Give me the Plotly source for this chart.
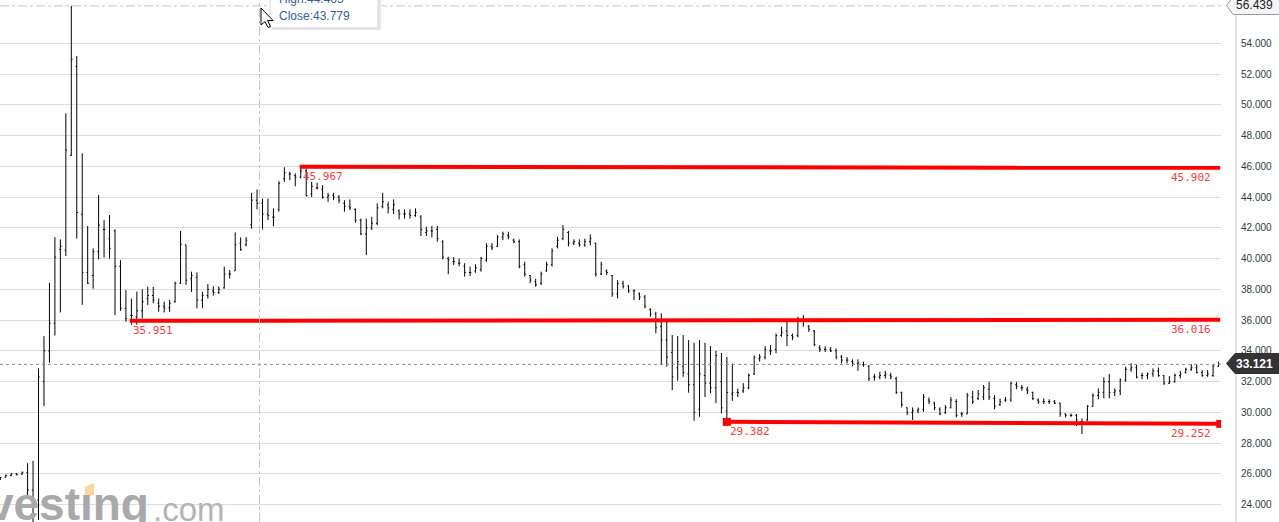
import plotly.graph_objects as go

# ---------------- data ----------------
opens = [25.65, 25.8, 25.9, 26.0, 25.98, 26.1, 24.95, 24.3, 32.0, 34.0,
         35.8, 40.6, 40.55, 46.73, 52.5, 42.9, 39.1, 38.9, 40.45, 41.9,
         41.3, 41.8, 39.5, 36.77, 36.3, 36.2, 36.6, 37.4, 37.6, 37.1,
         36.9, 36.8, 37.2, 38.4, 40.9, 38.7, 38.8, 37.3, 37.6, 37.9,
         37.8, 38.1, 39.0, 39.2, 41.0, 40.9, 42.2, 43.8, 43.6, 42.9,
         42.7, 43.2, 45.2, 45.5, 45.4, 45.3, 45.7, 44.2, 44.6, 44.5,
         44.0, 44.1, 44.0, 43.6, 43.4, 43.2, 42.5, 41.6, 42.0, 42.3,
         43.4, 43.5, 43.2, 43.1, 42.9, 42.9, 42.8, 42.7, 41.7, 41.8,
         41.9, 41.1, 40.0, 39.8, 39.7, 39.5, 39.1, 39.2, 39.3, 39.9,
         40.8, 40.8, 41.4, 41.5, 41.2, 41.1, 39.6, 38.9, 38.5, 38.4,
         39.2, 39.6, 40.8, 41.3, 41.7, 41.0, 41.0, 40.9, 41.1, 41.0,
         39.0, 39.2, 38.9, 37.7, 38.4, 38.2, 37.9, 37.7, 37.5, 36.7,
         36.4, 35.6, 34.7, 33.9, 32.9, 33.0, 32.5, 31.8, 30.2, 32.4,
         31.9, 31.6, 32.0, 30.1, 31.2, 31.3, 31.4, 31.6, 32.5, 33.5,
         33.6, 34.0, 34.1, 35.0, 35.3, 35.0, 35.0, 36.0, 35.6, 35.3,
         34.2, 34.1, 34.1, 34.0, 33.6, 33.4, 33.3, 33.2, 33.1, 33.0,
         32.3, 32.3, 32.4, 32.4, 32.2, 31.3, 30.3, 30.0, 30.1, 30.2,
         30.8, 30.6, 30.2, 30.0, 30.3, 30.7, 29.9, 29.9, 31.0, 30.9,
         31.0, 31.5, 30.9, 30.5, 30.8, 30.8, 31.8, 31.6, 31.5, 31.3,
         30.8, 30.7, 30.7, 30.7, 30.6, 29.9, 29.8, 29.8, 29.4, 29.5,
         30.4, 31.1, 31.3, 32.0, 31.3, 31.4, 32.1, 32.8, 32.9, 32.4,
         32.4, 32.5, 32.7, 32.4, 31.9, 32.0, 32.4, 32.6, 32.8, 32.9,
         32.6, 32.4, 32.4, 33.0]
highs = [25.8, 25.95, 26.05, 26.05, 26.15, 26.7, 26.85, 32.86, 34.96, 38.43,
         41.4, 41.25, 49.45, 56.439, 53.17, 46.85, 42.12, 40.67, 44.13, 42.5,
         42.83, 41.9, 39.9, 37.95, 37.4, 37.85, 38.0, 38.17, 38.17, 37.4,
         37.2, 37.3, 38.5, 41.8, 40.9, 39.15, 39.1, 37.84, 38.35, 38.2,
         38.2, 39.48, 39.26, 41.7, 41.38, 41.4, 44.28, 44.5, 43.9, 43.9,
         43.27, 45.04, 45.94, 45.65, 45.55, 45.97, 45.87, 45.0, 44.93, 44.78,
         44.28, 44.28, 44.13, 43.8, 43.85, 43.27, 42.6, 42.6, 42.72, 43.6,
         44.28, 43.7, 43.85, 43.2, 43.2, 43.2, 43.27, 42.83, 42.07, 42.12,
         42.12, 41.2, 40.12, 40.1, 40.0, 39.7, 39.48, 39.63, 40.12, 40.99,
         41.0, 41.53, 41.75, 41.75, 41.3, 41.25, 39.8, 38.93, 38.7, 39.15,
         39.8, 40.67, 41.42, 42.18, 41.8, 41.25, 41.25, 41.3, 41.57, 41.03,
         39.8, 39.29, 38.93, 38.6, 38.56, 38.28, 38.0, 37.8, 37.63, 36.77,
         36.54, 36.44, 35.89, 35.03, 34.96, 35.03, 34.7, 34.53, 34.7, 34.53,
         34.31, 34.0, 33.87, 33.6, 33.18, 31.55, 31.9, 32.53, 33.7, 33.79,
         34.31, 34.37, 35.13, 35.57, 35.89, 35.13, 36.22, 36.33, 35.68, 35.35,
         34.37, 34.3, 34.25, 34.16, 33.73, 33.6, 33.45, 33.45, 33.3, 33.08,
         32.49, 32.64, 32.7, 32.58, 32.31, 31.34, 30.32, 30.32, 30.32, 31.19,
         30.97, 30.69, 30.32, 30.47, 31.0, 30.85, 30.04, 31.27, 31.4, 31.45,
         31.78, 31.99, 31.12, 30.9, 31.0, 31.99, 31.99, 31.78, 31.67, 31.34,
         30.91, 30.91, 30.85, 30.8, 30.62, 29.93, 29.93, 29.89, 29.61, 30.47,
         31.24, 31.56, 32.28, 32.49, 31.56, 32.21, 32.97, 33.19, 33.08, 32.58,
         32.58, 32.86, 32.92, 32.42, 32.36, 32.53, 32.7, 32.9, 33.14, 33.14,
         32.75, 32.75, 33.08, 33.29]
lows = [25.6, 25.75, 25.85, 25.9, 25.95, 24.5, 22.0, 23.0, 30.4, 33.23,
        35.0, 36.5, 40.17, 46.67, 41.3, 37.0, 38.35, 38.04, 39.95, 40.06,
        40.0, 36.33, 36.6, 35.89, 35.7, 35.7, 36.1, 36.98, 37.1, 36.54,
        36.5, 36.54, 37.13, 38.35, 38.3, 37.84, 36.77, 36.77, 37.4, 37.6,
        37.7, 38.05, 38.7, 39.2, 40.5, 40.8, 41.94, 43.2, 41.9, 42.5,
        42.1, 43.05, 45.0, 45.1, 44.7, 45.22, 44.03, 44.0, 44.5, 43.9,
        43.7, 43.8, 43.6, 43.05, 43.16, 42.33, 41.53, 40.23, 41.86, 42.18,
        43.27, 42.94, 42.9, 42.55, 42.6, 42.6, 42.72, 41.47, 41.47, 41.38,
        41.1, 39.95, 38.99, 39.58, 39.5, 38.83, 38.86, 39.08, 39.15, 39.8,
        40.56, 40.77, 41.2, 41.25, 41.0, 39.37, 38.83, 38.4, 38.17, 38.28,
        39.15, 39.48, 40.67, 41.2, 40.8, 40.88, 40.77, 40.77, 40.86, 38.83,
        38.93, 38.93, 37.52, 37.41, 38.06, 37.78, 37.3, 37.3, 36.77, 36.22,
        35.14, 33.08, 32.97, 31.45, 32.06, 32.31, 31.28, 29.45, 29.71, 31.0,
        31.24, 30.6, 29.93, 29.382, 30.75, 31.0, 31.27, 31.5, 32.43, 33.3,
        33.45, 33.73, 33.84, 34.92, 34.31, 34.7, 34.88, 35.57, 35.24, 34.31,
        33.93, 33.93, 33.93, 33.45, 33.19, 33.19, 33.0, 32.7, 32.97, 32.04,
        32.06, 32.15, 32.2, 32.15, 31.19, 30.32, 29.82, 29.5, 29.95, 30.04,
        30.54, 30.15, 29.82, 29.89, 30.26, 29.67, 29.71, 29.89, 30.54, 30.8,
        30.8, 30.8, 30.2, 30.41, 30.69, 30.69, 31.5, 31.4, 31.19, 30.8,
        30.54, 30.54, 30.54, 30.54, 29.71, 29.67, 29.71, 29.11, 28.59, 29.45,
        30.37, 30.85, 30.91, 30.91, 31.06, 31.13, 31.99, 32.64, 32.21, 32.15,
        32.15, 32.31, 32.31, 31.78, 31.84, 31.93, 32.2, 32.53, 32.7, 32.53,
        32.31, 32.31, 32.31, 32.97]
closes = [25.75, 25.9, 26.0, 25.95, 26.1, 24.95, 24.3, 32.3, 34.0, 35.8,
          40.1, 40.8, 47.06, 52.96, 43.0, 39.1, 38.4, 40.45, 42.18, 41.9,
          40.67, 39.5, 36.77, 36.1, 36.3, 36.6, 37.2, 37.6, 37.3, 36.9,
          36.8, 37.1, 38.4, 40.93, 38.6, 38.9, 37.3, 37.6, 38.0, 37.8,
          38.0, 39.0, 39.0, 40.9, 40.6, 41.2, 43.8, 43.6, 42.9, 42.8,
          42.7, 44.9, 45.6, 45.5, 45.3, 45.7, 44.1, 44.7, 44.6, 44.0,
          44.1, 44.0, 43.8, 43.4, 43.3, 42.5, 41.6, 42.0, 42.3, 43.3,
          43.7, 43.3, 43.5, 42.9, 42.9, 42.8, 43.0, 41.9, 41.8, 41.8,
          41.3, 40.1, 39.9, 39.8, 39.7, 39.1, 39.1, 39.4, 40.0, 40.8,
          40.7, 41.4, 41.6, 41.4, 41.1, 39.5, 39.0, 38.6, 38.3, 39.0,
          39.6, 40.5, 41.2, 41.9, 41.0, 41.1, 40.9, 41.1, 41.3, 39.0,
          39.6, 39.1, 37.7, 38.4, 38.2, 37.9, 37.9, 37.5, 36.9, 36.4,
          35.5, 34.7, 33.6, 32.3, 33.3, 32.6, 31.8, 30.0, 32.5, 31.9,
          31.6, 33.7, 30.3, 31.3, 31.3, 31.3, 31.6, 32.4, 33.6, 33.6,
          34.1, 34.0, 35.0, 35.2, 35.0, 34.9, 36.0, 36.0, 35.4, 34.4,
          34.1, 34.1, 34.0, 33.6, 33.4, 33.4, 33.2, 33.2, 33.1, 32.2,
          32.3, 32.4, 32.5, 32.3, 31.3, 30.5, 30.0, 30.1, 30.2, 31.0,
          30.7, 30.3, 29.9, 30.3, 30.8, 29.8, 29.9, 31.1, 30.7, 31.2,
          31.6, 31.0, 30.4, 30.7, 30.8, 31.9, 31.7, 31.6, 31.4, 30.9,
          30.7, 30.7, 30.7, 30.6, 29.9, 29.8, 29.8, 29.5, 29.4, 30.4,
          31.1, 31.3, 32.0, 31.3, 31.4, 32.1, 32.8, 32.9, 32.3, 32.4,
          32.5, 32.7, 32.4, 31.9, 32.0, 32.4, 32.5, 32.8, 32.9, 32.6,
          32.4, 32.5, 33.0, 33.121]
bar_idx = list(range(len(closes)))

tick_values = [24, 26, 28, 30, 32, 34, 36, 38, 40, 42, 44, 46, 48, 50, 52, 54]
tick_labels = [f"{v:.3f}" for v in tick_values]

# horizontal support / resistance levels (start bar, start value, end value)
level_start_idx = [54.8, 23.7, 133]
level_start_val = [45.967, 35.951, 29.382]
level_end_val = [45.902, 36.016, 29.252]
level_end_idx = 223.3

last_close = 33.121
top_value = 56.439
crosshair_idx = 47.45
tooltip_lines = ["High:44.465", "Close:43.779"]

# ---------------- layout geometry ----------------
W, H = 1279, 522
PLOT_W = 1221
X_RANGE = [-0.05, 223.45]
Y_RANGE = [22.87, 56.82]


def px(xp):
    return xp / PLOT_W


def py(yp):
    return 1 - yp / H


fig = go.Figure()

fig.add_trace(go.Ohlc(
    x=bar_idx, open=opens, high=highs, low=lows, close=closes,
    increasing=dict(line=dict(color="#000000", width=1)),
    decreasing=dict(line=dict(color="#000000", width=1)),
    tickwidth=0.22, hoverinfo="skip", showlegend=False,
))

for i in range(3):
    fig.add_trace(go.Scatter(
        x=[level_start_idx[i], level_end_idx],
        y=[level_start_val[i], level_end_val[i]],
        mode="lines+markers" if i == 2 else "lines",
        line=dict(color="#ff0000", width=4),
        marker=dict(symbol="square", size=8, color="#ff0000") if i == 2 else None,
        hoverinfo="skip", showlegend=False,
    ))

annotations = []
label_font = dict(family="DejaVu Sans Mono", size=11, color="#ff3b3b")
for i in range(3):
    annotations.append(dict(
        x=level_start_idx[i], y=level_start_val[i], xref="x", yref="y",
        text=f"{level_start_val[i]:.3f}", showarrow=False,
        xanchor="left", yanchor="top", xshift=1, yshift=-1, font=label_font))
    annotations.append(dict(
        x=222.0, y=level_end_val[i], xref="x", yref="y",
        text=f"{level_end_val[i]:.3f}", showarrow=False,
        xanchor="right", yanchor="top", yshift=-1, font=label_font))

shapes = []
# watermark backdrop
shapes.append(dict(type="rect", xref="paper", yref="paper",
                   x0=px(0), x1=px(243), y0=py(522), y1=py(478),
                   fillcolor="rgba(255,255,255,0.92)", line=dict(width=0), layer="below"))
# crosshair
shapes.append(dict(type="line", xref="x", yref="paper", x0=crosshair_idx, x1=crosshair_idx,
                   y0=0, y1=1, line=dict(color="#c4c4c4", width=1, dash="dashdot")))
shapes.append(dict(type="line", xref="paper", yref="y", x0=0, x1=1,
                   y0=top_value, y1=top_value,
                   line=dict(color="#c4c4c4", width=1, dash="dashdot")))
# last price dotted line
shapes.append(dict(type="line", xref="paper", yref="y", x0=0, x1=1,
                   y0=last_close, y1=last_close,
                   line=dict(color="#8a8a8a", width=1, dash="dot")))
# right axis line
shapes.append(dict(type="line", xref="paper", yref="paper", x0=px(1236), x1=px(1236),
                   y0=0, y1=1, line=dict(color="#c8c8c8", width=1)))

# price tag for the top value (light)
ty = 5.5
shapes.append(dict(type="path", xref="paper", yref="paper",
                   path=(f"M{px(1226.5)},{py(ty)} L{px(1233)},{py(ty - 9)} L{px(1285)},{py(ty - 9)} "
                         f"L{px(1285)},{py(ty + 9)} L{px(1233)},{py(ty + 9)} Z"),
                   fillcolor="#f4f4f4", line=dict(color="#9a9a9a", width=1)))
# price tag for last close (dark)
cy = 363.5
shapes.append(dict(type="path", xref="paper", yref="paper",
                   path=(f"M{px(1226.5)},{py(cy)} L{px(1235)},{py(cy - 10)} L{px(1285)},{py(cy - 10)} "
                         f"L{px(1285)},{py(cy + 10)} L{px(1235)},{py(cy + 10)} Z"),
                   fillcolor="#333333", line=dict(color="#333333", width=1)))

# tooltip box (shadow + box)
shapes.append(dict(type="rect", xref="paper", yref="paper",
                   x0=px(272), x1=px(381), y0=py(30), y1=py(-10),
                   fillcolor="#e6e6e6", line=dict(width=0)))
shapes.append(dict(type="rect", xref="paper", yref="paper",
                   x0=px(270), x1=px(378), y0=py(28), y1=py(-10),
                   fillcolor="#ffffff", line=dict(color="#d6d6d6", width=1)))
# mouse cursor
cx0, cy0 = 261, 8
pts = [(0, 0), (0, 17), (4, 13.5), (7, 19.5), (9.5, 18.5), (6.5, 12.5), (12, 12.5)]
path = "M" + " L".join(f"{px(cx0 + a)},{py(cy0 + b)}" for a, b in pts) + " Z"
shapes.append(dict(type="path", xref="paper", yref="paper", path=path,
                   fillcolor="#ffffff", line=dict(color="#000000", width=1)))
# orange dot of the watermark "i"
shapes.append(dict(type="path", xref="paper", yref="paper",
                   path=(f"M{px(85)},{py(487)} L{px(94)},{py(483)} L{px(94)},{py(495)} "
                         f"L{px(85)},{py(497)} Z"),
                   fillcolor="#fbd7a0", line=dict(width=0)))

# price tag texts
annotations.append(dict(x=px(1255), y=py(ty), xref="paper", yref="paper", text=f"{top_value:.3f}",
                        showarrow=False, xanchor="center", yanchor="middle",
                        font=dict(family="Arial", size=12, color="#222222")))
annotations.append(dict(x=px(1255), y=py(cy), xref="paper", yref="paper", text=f"<b>{last_close:.3f}</b>",
                        showarrow=False, xanchor="center", yanchor="middle",
                        font=dict(family="Arial", size=12, color="#ffffff")))
# tooltip texts
annotations.append(dict(x=px(277), y=py(-1.5), xref="paper", yref="paper", text=tooltip_lines[0],
                        showarrow=False, xanchor="left", yanchor="middle",
                        font=dict(family="Arial", size=12, color="#35609a")))
annotations.append(dict(x=px(277), y=py(15.5), xref="paper", yref="paper", text=tooltip_lines[1],
                        showarrow=False, xanchor="left", yanchor="middle",
                        font=dict(family="Arial", size=12, color="#35609a")))
# watermark
annotations.append(dict(x=px(-55), y=py(532), xref="paper", yref="paper",
                        text="<b>Investıng</b>", showarrow=False, xanchor="left", yanchor="bottom",
                        font=dict(family="Liberation Sans", size=46, color="#a9a9a9")))
annotations.append(dict(x=px(151), y=py(530), xref="paper", yref="paper",
                        text=".com", showarrow=False, xanchor="left", yanchor="bottom",
                        font=dict(family="Liberation Sans", size=33, color="#b3b3b3")))

fig.update_layout(
    width=W, height=H,
    margin=dict(l=0, r=W - PLOT_W, t=0, b=0, pad=0),
    paper_bgcolor="#ffffff", plot_bgcolor="#ffffff",
    showlegend=False,
    xaxis=dict(range=X_RANGE, showgrid=False, zeroline=False, showticklabels=False,
               showline=False, ticks="", rangeslider=dict(visible=False), fixedrange=True),
    yaxis=dict(range=Y_RANGE, side="right", tickvals=tick_values, ticktext=tick_labels,
               showgrid=True, gridcolor="#dcdcdc", gridwidth=1, zeroline=False,
               showline=False, ticks="", ticklabelstandoff=19,
               tickfont=dict(family="Arial", size=10, color="#2f3b45"), fixedrange=True),
    shapes=shapes, annotations=annotations,
    hovermode=False,
)

fig.write_html("out.html", config={"displayModeBar": False},
               post_script="document.body.style.margin='0px';")
